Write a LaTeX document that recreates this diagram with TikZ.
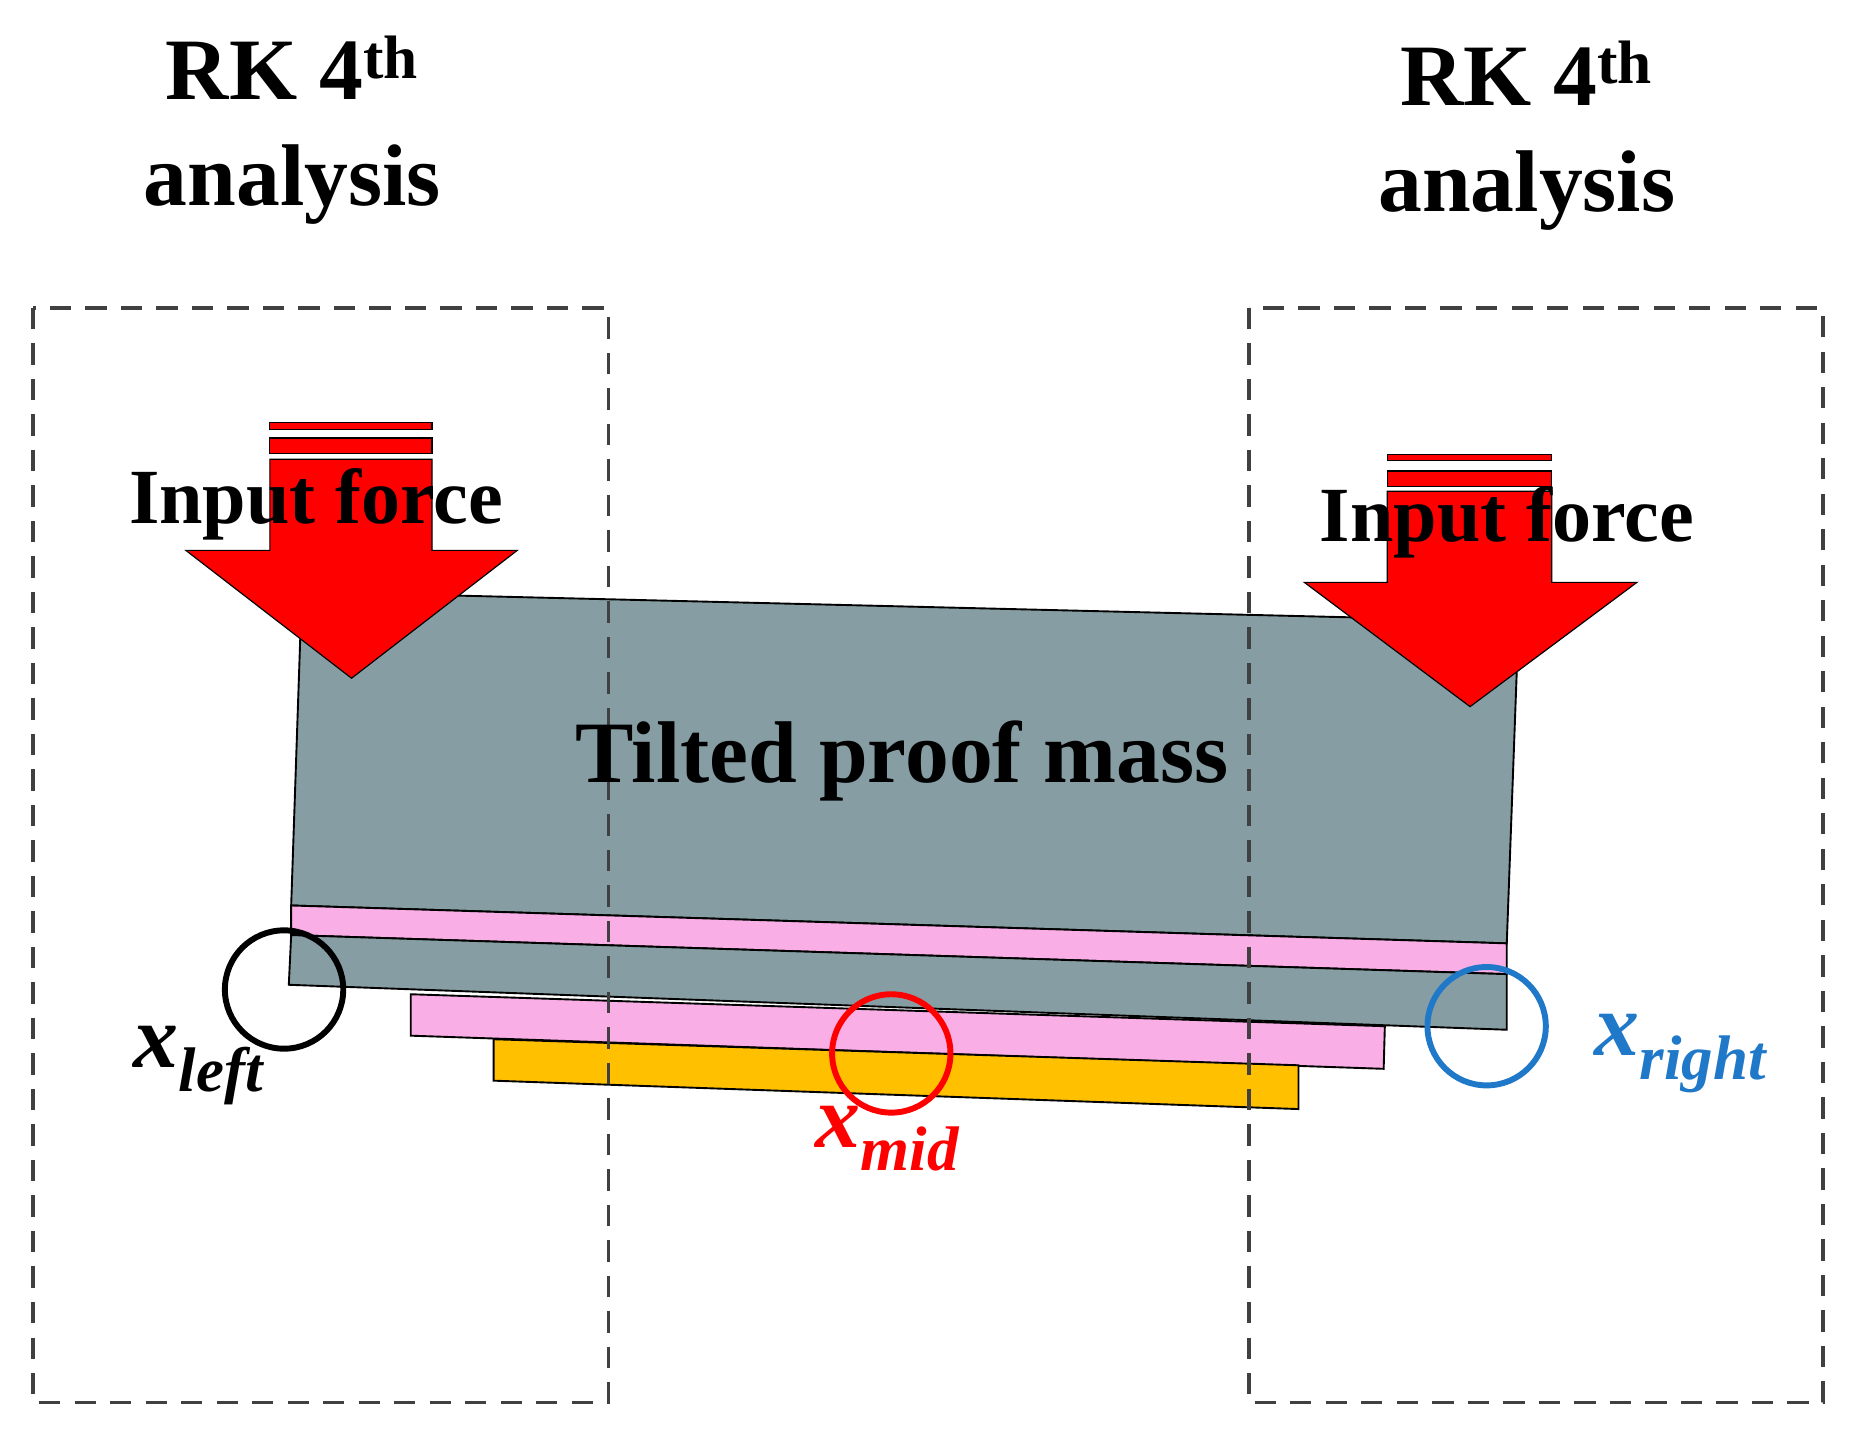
\documentclass[tikz,border=0pt]{standalone}
\usepackage{fontspec}
\setmainfont{Liberation Serif}
\definecolor{mgray}{RGB}{134,158,163}
\definecolor{mpink}{RGB}{249,174,230}
\definecolor{myel}{RGB}{255,192,0}
\definecolor{dgray}{RGB}{64,64,64}
\definecolor{mblue}{RGB}{31,120,200}
\begin{document}
\begin{tikzpicture}[x=0.5pt,y=-0.5pt,
  gray/.style={fill=mgray,draw=black,line width=0.8pt},
  pinkL/.style={fill=mpink,draw=black,line width=0.8pt},
  yel/.style={fill=myel,draw=black,line width=0.8pt},
  box/.style={draw=dgray,line width=1.5pt,dash pattern=on 9pt off 6pt},
  arr/.style={fill=red,draw=black,line width=0.5pt},
  ttl/.style={font=\bfseries\fontsize{37}{45}\selectfont,align=center},
  inp/.style={font=\bfseries\fontsize{33}{36}\selectfont},
  ring/.style={line width=2.5pt},
  lab/.style={font=\bfseries\itshape\fontsize{38}{40}\selectfont}]
\useasboundingbox (0,0) rectangle (1563,1210);
% proof mass
\path[gray] (255,500) -- (1283,525) -- (1273,797) -- (246,765) -- cycle;
\path[pinkL] (246,765) -- (1273,797) -- (1273,823) -- (246,790) -- cycle;
\path[gray] (246,790) -- (1273,823) -- (1273,870) -- (244,832) -- cycle;
\path[pinkL] (347,840) -- (1170,867) -- (1169,903) -- (347,875) -- cycle;
\path[yel] (417,878) -- (1097,900) -- (1097,937) -- (417,913) -- cycle;
% arrows
\path[arr] (228,357) rectangle (365,363);
\path[arr] (228,370) rectangle (365,383);
\path[arr] (228,388) -- (365,388) -- (365,465) -- (437,465) -- (297,573) -- (157,465) -- (228,465) -- cycle;
\path[arr] (1172,384) rectangle (1311,389);
\path[arr] (1172,398) rectangle (1311,411);
\path[arr] (1172,415) -- (1311,415) -- (1311,492) -- (1383,492) -- (1242,597) -- (1102,492) -- (1172,492) -- cycle;
% boxes
\draw[box] (28,260) rectangle (514,1185);
\draw[box] (1055,260) rectangle (1540,1185);
% texts
\node[ttl] (t1) at (247,110) {RK 4\textsuperscript{th}\\analysis};
\node[ttl] (t2) at (1290,115) {RK 4\textsuperscript{th}\\analysis};
\node[inp] (i1) at (267,426) {Input force};
\node[inp] (i2) at (1273,441) {Input force};
\node[font=\bfseries\fontsize{37}{42}\selectfont] (tm) at (762,643) {Tilted proof mass};
% rings
\draw[ring,black] (240,836) circle (50);
\draw[ring,red] (753,890) circle (50);
\draw[ring,mblue] (1256,867) circle (50);
\node[lab] (xl) at (168,900) {x\textsubscript{left}};
\node[lab,red] (xm) at (750,962) {x\textsubscript{mid}};
\node[lab,text=mblue] (xr) at (1420,890) {x\textsubscript{right}};
\end{tikzpicture}
\end{document}
